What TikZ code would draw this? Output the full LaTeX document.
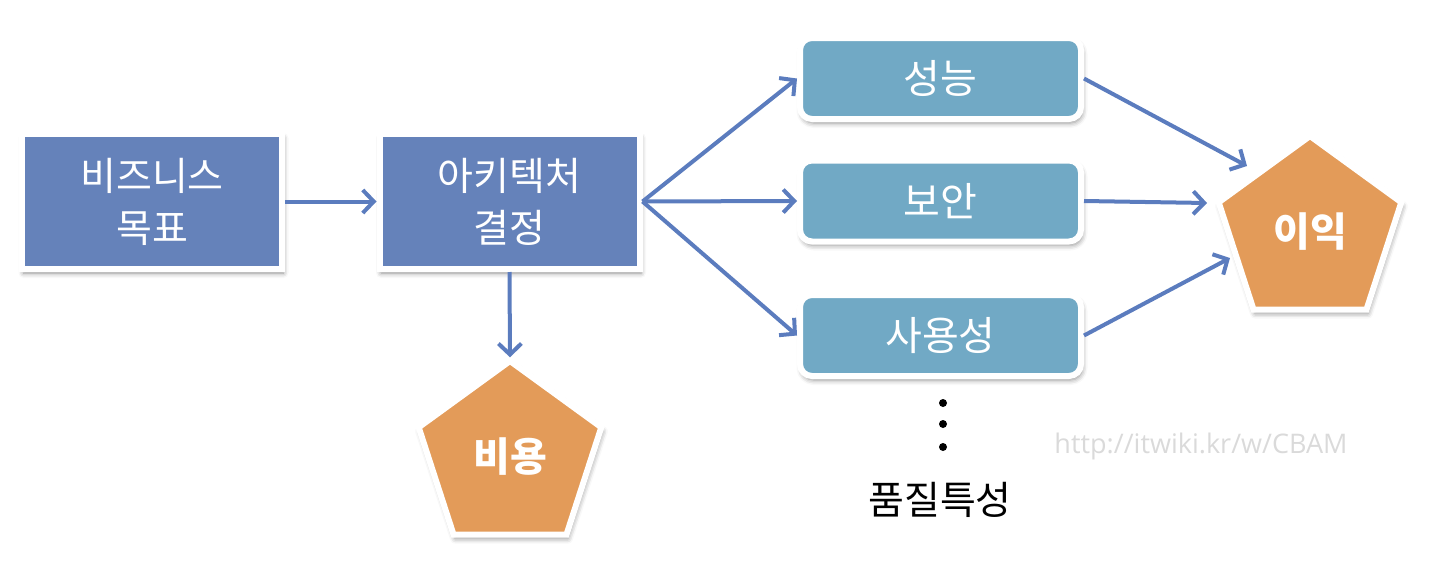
\documentclass[tikz,border=0pt]{standalone}
\usepackage{fontspec}
\newfontfamily\kr{Noto Sans CJK KR}
\newfontfamily\wm{Open Sans}
\usetikzlibrary{arrows.meta,shapes.geometric,shadows.blur}
\definecolor{boxblue}{HTML}{6582BA}
\definecolor{boxteal}{HTML}{71A9C5}
\definecolor{pentorange}{HTML}{E39B59}
\definecolor{arrowc}{HTML}{5B7CBE}
\definecolor{wmgray}{HTML}{DADADA}
\begin{document}
\begin{tikzpicture}[x=1pt,y=-1pt,
  shade/.style={blur shadow={shadow xshift=1.5pt,shadow yshift=-4pt,shadow blur radius=5pt,shadow opacity=45}},
  mainbox/.style={rectangle,fill=boxblue,draw=white,line width=6pt,minimum width=260pt,minimum height=135pt,inner sep=0pt,align=center,text=white,font=\kr\fontsize{39pt}{52pt}\selectfont,shade},
  qbox/.style={rectangle,rounded corners=12pt,fill=boxteal,draw=white,line width=6pt,minimum width=281pt,minimum height=81pt,inner sep=0pt,text=white,font=\kr\fontsize{40pt}{44pt}\selectfont,shade},
  penta/.style={regular polygon,regular polygon sides=5,minimum size=192pt,inner sep=0pt,fill=pentorange,draw=white,line width=6pt,text=white,font=\kr\bfseries\fontsize{40pt}{44pt}\selectfont,shade},
  arr/.style={draw=arrowc,line width=4pt,-{Straight Barb[length=11pt,width=23pt]}},
  dotn/.style={circle,fill=black,inner sep=0pt,minimum size=8pt}
]
\useasboundingbox (0,0) rectangle (1433,568);
\node[mainbox] (biz) at (152,201.5) {비즈니스\\목표};
\node[mainbox] (dec) at (509.5,201.5) {아키텍처\\결정};
\node[qbox] (perf) at (940.5,78.5) {성능};
\node[qbox] (sec) at (940.5,201) {보안};
\node[qbox] (use) at (940.5,335.5) {사용성};
\node[penta] (ben) at (1310,232) {이익};
\node[penta] (cost) at (510,457) {비용};
\node[dotn] (d1) at (943,403) {};
\node[dotn] (d2) at (943,424) {};
\node[dotn] (d3) at (943,447) {};
\node[font=\kr\fontsize{39pt}{44pt}\selectfont] (qa) at (940,500) {품질특성};
\node[font=\wm\fontsize{27pt}{32pt}\selectfont,text=wmgray] (url) at (1201,446) {http://itwiki.kr/w/CBAM};
\coordinate (t1) at (1247,166);
\coordinate (t2) at (1207,203);
\coordinate (t3) at (1230,258);
\draw[arr] (biz) -- (dec);
\draw[arr] (dec.east) -- (perf.west);
\draw[arr] (dec.east) -- (sec.west);
\draw[arr] (dec.east) -- (use.west);
\draw[arr] (dec.south) -- (cost.corner 1);
\draw[arr] (perf.east) -- (t1);
\draw[arr] (sec.east) -- (t2);
\draw[arr] (use.east) -- (t3);
\end{tikzpicture}
\end{document}
